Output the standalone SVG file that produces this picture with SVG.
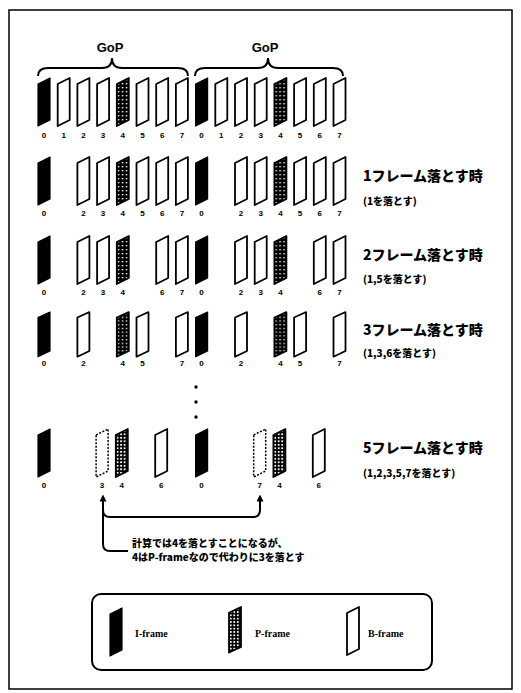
<svg xmlns="http://www.w3.org/2000/svg" xmlns:xlink="http://www.w3.org/1999/xlink" width="521" height="693" viewBox="0 0 521 693">
<style>
.B{fill:#fff;stroke:#000;stroke-width:1.8;stroke-linejoin:round}
.I{fill:#000;stroke:#000;stroke-width:1.2;stroke-linejoin:round}
.P{fill:url(#pd);stroke:#000;stroke-width:1.8;stroke-linejoin:round}
.P2{fill:url(#pg);stroke:#000;stroke-width:1.8;stroke-linejoin:round}
.Bd{fill:#fff;stroke:#000;stroke-width:1.5;stroke-dasharray:2 1.5}
.n{font-family:"Liberation Sans",sans-serif;font-weight:700;font-size:8px;text-anchor:middle;fill:#000}
.g{font-family:"Liberation Sans",sans-serif;font-weight:700;font-size:13px;text-anchor:middle;fill:#000}
.h{font-family:"Noto Sans CJK JP",sans-serif;font-weight:900;font-size:14px;fill:#000}
.s{font-family:"Noto Sans CJK JP",sans-serif;font-weight:900;font-size:10px;fill:#000}
.leg{font-family:"Liberation Serif",serif;font-weight:700;font-size:10px;fill:#000}
.ln{fill:none;stroke:#000;stroke-width:2}
</style>
<defs>
<path id="fr" d="M0,6 L12,0 L12,42 L0,48 Z"/>
<pattern id="pd" width="4" height="4" patternUnits="userSpaceOnUse"><rect width="4" height="4" fill="#000"/><rect x="1" y="1" width="1.4" height="1.4" fill="#fff"/></pattern>
<pattern id="pg" width="3.5" height="3.5" patternUnits="userSpaceOnUse"><rect width="3.5" height="3.5" fill="#000"/><rect x="0.9" y="0.9" width="1.8" height="1.8" fill="#fff"/></pattern>
<marker id="ah" viewBox="0 0 8 8" refX="4" refY="4" markerWidth="7" markerHeight="7" orient="auto-start-reverse" markerUnits="userSpaceOnUse"><path d="M0,0 L8,4 L0,8 Z" fill="#000"/></marker>
</defs>

<rect id="border" x="9" y="10" width="503" height="679" fill="none" stroke="#000" stroke-width="1.5"/>

<g id="gop1"><path class="ln" d="M38,76 Q38,68 48,68 L102,68 Q112,68 112,58 Q112,68 122,68 L178,68 Q188,68 188,76"/><text class="g" x="110" y="52">GoP</text></g>
<g id="gop2"><path class="ln" d="M195,76 Q195,68 205,68 L258,68 Q268,68 268,58 Q268,68 278,68 L333,68 Q343,68 343,76"/><text class="g" x="265" y="52">GoP</text></g>

<!-- Row 1 -->
<g id="r1f0"><use href="#fr" class="I" transform="translate(38,78)"/><text class="n" x="44" y="138">0</text></g>
<g id="r1f1"><use href="#fr" class="B" transform="translate(57.7,78)"/><text class="n" x="63.7" y="138">1</text></g>
<g id="r1f2"><use href="#fr" class="B" transform="translate(77.4,78)"/><text class="n" x="83.4" y="138">2</text></g>
<g id="r1f3"><use href="#fr" class="B" transform="translate(97.1,78)"/><text class="n" x="103.1" y="138">3</text></g>
<g id="r1f4"><use href="#fr" class="P" transform="translate(116.8,78)"/><text class="n" x="122.8" y="138">4</text></g>
<g id="r1f5"><use href="#fr" class="B" transform="translate(136.5,78)"/><text class="n" x="142.5" y="138">5</text></g>
<g id="r1f6"><use href="#fr" class="B" transform="translate(156.2,78)"/><text class="n" x="162.2" y="138">6</text></g>
<g id="r1f7"><use href="#fr" class="B" transform="translate(175.9,78)"/><text class="n" x="181.9" y="138">7</text></g>
<g id="r1f8"><use href="#fr" class="I" transform="translate(195.6,78)"/><text class="n" x="201.6" y="138">0</text></g>
<g id="r1f9"><use href="#fr" class="B" transform="translate(215.3,78)"/><text class="n" x="221.3" y="138">1</text></g>
<g id="r1f10"><use href="#fr" class="B" transform="translate(235,78)"/><text class="n" x="241" y="138">2</text></g>
<g id="r1f11"><use href="#fr" class="B" transform="translate(254.7,78)"/><text class="n" x="260.7" y="138">3</text></g>
<g id="r1f12"><use href="#fr" class="P" transform="translate(274.4,78)"/><text class="n" x="280.4" y="138">4</text></g>
<g id="r1f13"><use href="#fr" class="B" transform="translate(294.1,78)"/><text class="n" x="300.1" y="138">5</text></g>
<g id="r1f14"><use href="#fr" class="B" transform="translate(313.8,78)"/><text class="n" x="319.8" y="138">6</text></g>
<g id="r1f15"><use href="#fr" class="B" transform="translate(333.5,78)"/><text class="n" x="339.5" y="138">7</text></g>

<!-- Row 2 -->
<g id="r2f0"><use href="#fr" class="I" transform="translate(38,157)"/><text class="n" x="44" y="216">0</text></g>
<g id="r2f2"><use href="#fr" class="B" transform="translate(77.4,157)"/><text class="n" x="83.4" y="216">2</text></g>
<g id="r2f3"><use href="#fr" class="B" transform="translate(97.1,157)"/><text class="n" x="103.1" y="216">3</text></g>
<g id="r2f4"><use href="#fr" class="P" transform="translate(116.8,157)"/><text class="n" x="122.8" y="216">4</text></g>
<g id="r2f5"><use href="#fr" class="B" transform="translate(136.5,157)"/><text class="n" x="142.5" y="216">5</text></g>
<g id="r2f6"><use href="#fr" class="B" transform="translate(156.2,157)"/><text class="n" x="162.2" y="216">6</text></g>
<g id="r2f7"><use href="#fr" class="B" transform="translate(175.9,157)"/><text class="n" x="181.9" y="216">7</text></g>
<g id="r2f8"><use href="#fr" class="I" transform="translate(195.6,157)"/><text class="n" x="201.6" y="216">0</text></g>
<g id="r2f10"><use href="#fr" class="B" transform="translate(235,157)"/><text class="n" x="241" y="216">2</text></g>
<g id="r2f11"><use href="#fr" class="B" transform="translate(254.7,157)"/><text class="n" x="260.7" y="216">3</text></g>
<g id="r2f12"><use href="#fr" class="P" transform="translate(274.4,157)"/><text class="n" x="280.4" y="216">4</text></g>
<g id="r2f13"><use href="#fr" class="B" transform="translate(294.1,157)"/><text class="n" x="300.1" y="216">5</text></g>
<g id="r2f14"><use href="#fr" class="B" transform="translate(313.8,157)"/><text class="n" x="319.8" y="216">6</text></g>
<g id="r2f15"><use href="#fr" class="B" transform="translate(333.5,157)"/><text class="n" x="339.5" y="216">7</text></g>
<g id="r2label"><text class="h" x="363" y="181">1フレーム落とす時</text><text class="s" x="363" y="205">(1を落とす)</text></g>

<!-- Row 3 -->
<g id="r3f0"><use href="#fr" class="I" transform="translate(38,236)"/><text class="n" x="44" y="295">0</text></g>
<g id="r3f2"><use href="#fr" class="B" transform="translate(77.4,236)"/><text class="n" x="83.4" y="295">2</text></g>
<g id="r3f3"><use href="#fr" class="B" transform="translate(97.1,236)"/><text class="n" x="103.1" y="295">3</text></g>
<g id="r3f4"><use href="#fr" class="P" transform="translate(116.8,236)"/><text class="n" x="122.8" y="295">4</text></g>
<g id="r3f6"><use href="#fr" class="B" transform="translate(156.2,236)"/><text class="n" x="162.2" y="295">6</text></g>
<g id="r3f7"><use href="#fr" class="B" transform="translate(175.9,236)"/><text class="n" x="181.9" y="295">7</text></g>
<g id="r3f8"><use href="#fr" class="I" transform="translate(195.6,236)"/><text class="n" x="201.6" y="295">0</text></g>
<g id="r3f10"><use href="#fr" class="B" transform="translate(235,236)"/><text class="n" x="241" y="295">2</text></g>
<g id="r3f11"><use href="#fr" class="B" transform="translate(254.7,236)"/><text class="n" x="260.7" y="295">3</text></g>
<g id="r3f12"><use href="#fr" class="P" transform="translate(274.4,236)"/><text class="n" x="280.4" y="295">4</text></g>
<g id="r3f14"><use href="#fr" class="B" transform="translate(313.8,236)"/><text class="n" x="319.8" y="295">6</text></g>
<g id="r3f15"><use href="#fr" class="B" transform="translate(333.5,236)"/><text class="n" x="339.5" y="295">7</text></g>
<g id="r3label"><text class="h" x="363" y="260">2フレーム落とす時</text><text class="s" x="363" y="283">(1,5を落とす)</text></g>

<!-- Row 4 -->
<g id="r4f0"><use href="#fr" class="I" transform="translate(38,312) scale(1,0.93)"/><text class="n" x="44" y="366">0</text></g>
<g id="r4f2"><use href="#fr" class="B" transform="translate(77.4,312) scale(1,0.93)"/><text class="n" x="83.4" y="366">2</text></g>
<g id="r4f4"><use href="#fr" class="P" transform="translate(116.8,312) scale(1,0.93)"/><text class="n" x="122.8" y="366">4</text></g>
<g id="r4f5"><use href="#fr" class="B" transform="translate(136.5,312) scale(1,0.93)"/><text class="n" x="142.5" y="366">5</text></g>
<g id="r4f7"><use href="#fr" class="B" transform="translate(175.9,312) scale(1,0.93)"/><text class="n" x="181.9" y="366">7</text></g>
<g id="r4f8"><use href="#fr" class="I" transform="translate(195.6,312) scale(1,0.93)"/><text class="n" x="201.6" y="366">0</text></g>
<g id="r4f10"><use href="#fr" class="B" transform="translate(235,312) scale(1,0.93)"/><text class="n" x="241" y="366">2</text></g>
<g id="r4f12"><use href="#fr" class="P" transform="translate(274.4,312) scale(1,0.93)"/><text class="n" x="280.4" y="366">4</text></g>
<g id="r4f13"><use href="#fr" class="B" transform="translate(294.1,312) scale(1,0.93)"/><text class="n" x="300.1" y="366">5</text></g>
<g id="r4f15"><use href="#fr" class="B" transform="translate(333.5,312) scale(1,0.93)"/><text class="n" x="339.5" y="366">7</text></g>
<g id="r4label"><text class="h" x="363" y="335">3フレーム落とす時</text><text class="s" x="363" y="357">(1,3,6を落とす)</text></g>

<g id="dots" fill="#000"><circle cx="196" cy="387" r="1.7"/><circle cx="196" cy="402" r="1.7"/><circle cx="196" cy="417" r="1.7"/></g>

<!-- Row 5 -->
<g id="r5f0"><use href="#fr" class="I" transform="translate(38,429)"/><text class="n" x="44" y="488">0</text></g>
<g id="r5f3"><use href="#fr" class="Bd" transform="translate(96.1,429)"/><text class="n" x="102.1" y="488">3</text></g>
<g id="r5f4"><use href="#fr" class="P2" transform="translate(115.8,429)"/><text class="n" x="121.8" y="488">4</text></g>
<g id="r5f6"><use href="#fr" class="B" transform="translate(155.2,429)"/><text class="n" x="161.2" y="488">6</text></g>
<g id="r5f8"><use href="#fr" class="I" transform="translate(195.6,429)"/><text class="n" x="201.6" y="488">0</text></g>
<g id="r5f11"><use href="#fr" class="Bd" transform="translate(253.7,429)"/><text class="n" x="259.7" y="488">7</text></g>
<g id="r5f12"><use href="#fr" class="P2" transform="translate(273.4,429)"/><text class="n" x="279.4" y="488">4</text></g>
<g id="r5f14"><use href="#fr" class="B" transform="translate(312.8,429)"/><text class="n" x="318.8" y="488">6</text></g>
<g id="r5label"><text class="h" x="363" y="453">5フレーム落とす時</text><text class="s" x="363" y="477">(1,2,3,5,7を落とす)</text></g>

<g id="connectors">
<path class="ln" d="M103,498 L103,544 Q103,551 110,551 L128,551" marker-start="url(#ah)"/>
<path class="ln" d="M103,510 Q103,517 110,517 L253,517 Q260,517 260,510 L260,498" marker-end="url(#ah)"/>
</g>
<g id="note"><text class="s" x="132" y="547" font-size="10.5">計算では4を落とすことになるが、</text><text class="s" x="132" y="561">4はP-frameなので代わりに3を落とす</text></g>

<g id="legend">
<rect x="92" y="594" width="340" height="76" rx="9" fill="none" stroke="#000" stroke-width="2"/>
<g id="legI"><use href="#fr" class="I" transform="translate(110,608)"/><text class="leg" x="135" y="637">I-frame</text></g>
<g id="legP"><use href="#fr" class="P2" transform="translate(229,607) scale(1,0.95)"/><text class="leg" x="255" y="637">P-frame</text></g>
<g id="legB"><use href="#fr" class="B" transform="translate(347,607)"/><text class="leg" x="368" y="637">B-frame</text></g>
</g>
</svg>
